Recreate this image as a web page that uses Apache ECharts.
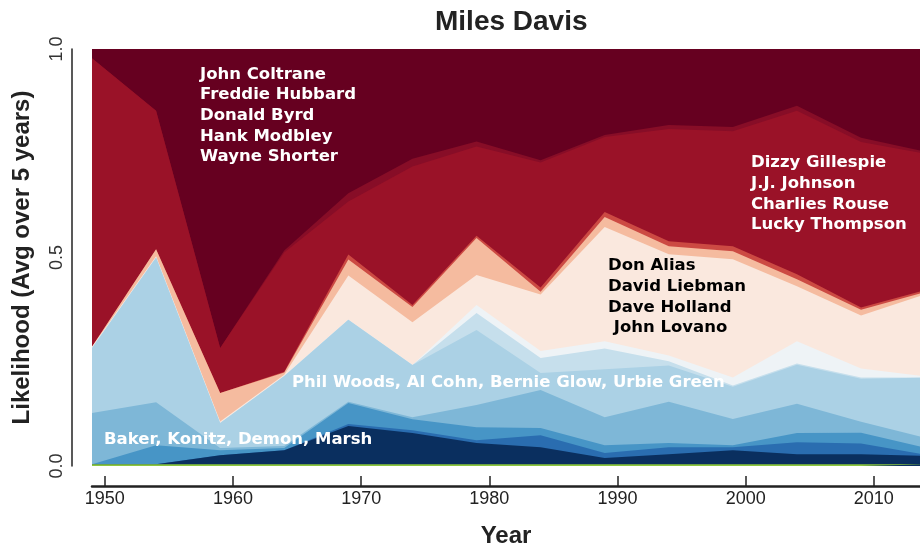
<!DOCTYPE html>
<html>
<head>
<meta charset="utf-8">
<title>Miles Davis</title>
<script src="https://cdn.jsdelivr.net/npm/echarts@6/dist/echarts.min.js"></script>
<style>
    html, body {margin: 0; padding: 0; background: #fff;}
    #main {width: 920px; height: 547px;}
</style>
</head>
<body>
<div id="main"></div>
<script>
// years, one point every 5 years
var years = [1949, 1954, 1959, 1964, 1969, 1974, 1979, 1984, 1989, 1994, 1999, 2004, 2009, 2014];
var xTicks = [1950, 1960, 1970, 1980, 1990, 2000, 2010];
var yTicks = [0, 0.5, 1];

// layers, bottom to top
var greenBand = [0.004, 0.004, 0.004, 0.004, 0.004, 0.004, 0.004, 0.004, 0.004, 0.004, 0.004, 0.004, 0.004, 0.004];
var navyBand = [0, 0, 0.022, 0.034, 0.092, 0.075, 0.051, 0.041, 0.015, 0.024, 0.034, 0.024, 0.024, 0.020];
var blueBand = [0, 0, 0, 0, 0.005, 0.007, 0.007, 0.029, 0.012, 0.017, 0.007, 0.029, 0.026, 0.003];
var midBlueBand = [0, 0.046, 0.012, 0.005, 0.050, 0.026, 0.031, 0.017, 0.019, 0.010, 0.005, 0.022, 0.026, 0.017];
var bakerBand = [0.123, 0.103, 0.005, 0.005, 0.003, 0.005, 0.053, 0.091, 0.067, 0.099, 0.063, 0.070, 0.026, 0.024];
var woodsBand = [0.156, 0.347, 0.060, 0.168, 0.197, 0.125, 0.180, 0.041, 0.115, 0.087, 0.077, 0.094, 0.103, 0.144];
var paleBlueBand = [0, 0, 0, 0, 0, 0, 0.041, 0.036, 0.050, 0.010, 0.003, 0.003, 0.003, 0];
var greyBand = [0, 0, 0, 0, 0, 0, 0.019, 0.017, 0.017, 0.014, 0.019, 0.053, 0.022, 0.003];
var aliasBand = [0.003, 0.003, 0.004, 0.003, 0.106, 0.103, 0.072, 0.135, 0.274, 0.243, 0.284, 0.132, 0.127, 0.197];
var salmonBand = [0, 0.017, 0.068, 0.005, 0.038, 0.036, 0.089, 0.007, 0.024, 0.019, 0.019, 0.017, 0.014, 0.005];
var rustBand = [0, 0, 0, 0.002, 0.012, 0.005, 0.005, 0.010, 0.012, 0.012, 0.012, 0.012, 0.005, 0.005];
var gillespieBand = [0.692, 0.332, 0.108, 0.286, 0.127, 0.332, 0.214, 0.300, 0.180, 0.269, 0.276, 0.392, 0.397, 0.327];
var wineBand = [0, 0, 0, 0.005, 0.020, 0.019, 0.012, 0.005, 0.005, 0.010, 0.010, 0.012, 0.010, 0.005];
var coltraneBand = [0.022, 0.154, 0.719, 0.490, 0.346, 0.267, 0.224, 0.269, 0.207, 0.185, 0.190, 0.139, 0.214, 0.248];

var layers = [
    {name: 'green', color: '#8cc63f', data: greenBand},
    {name: 'navy', color: '#0a2f5f', data: navyBand},
    {name: 'blue', color: '#2a6db0', data: blueBand},
    {name: 'midblue', color: '#4795c6', data: midBlueBand},
    {name: 'baker', color: '#7eb7d7', data: bakerBand},
    {name: 'woods', color: '#abd1e5', data: woodsBand},
    {name: 'paleblue', color: '#c6dfec', data: paleBlueBand},
    {name: 'grey', color: '#eef3f6', data: greyBand},
    {name: 'alias', color: '#fae8de', data: aliasBand},
    {name: 'salmon', color: '#f5bb9f', data: salmonBand},
    {name: 'rust', color: '#cc4a43', data: rustBand},
    {name: 'gillespie', color: '#9a1228', data: gillespieBand},
    {name: 'wine', color: '#870d27', data: wineBand},
    {name: 'coltrane', color: '#660020', data: coltraneBand}
];

// running totals: each layer is filled from 0 up to its top, drawn top layer first
var running = years.map(function () { return 0; });
var stacked = layers.map(function (l) {
    running = running.map(function (s, i) { return s + l.data[i]; });
    return {name: l.name, color: l.color, tops: running.slice()};
});
stacked.reverse();

var annoFont = '"DejaVu Sans", sans-serif';
function note(x, y, text, color) {
    return {
        type: 'text',
        left: x,
        top: y,
        z: 100,
        style: {
            text: text,
            fill: color,
            font: 'bold 16.5px ' + annoFont,
            lineHeight: 20.7
        }
    };
}

var xMin = 1949, xMax = 2013.6;
var nameFont = {
    fontFamily: '"Liberation Sans", Arial, sans-serif',
    fontWeight: 'bold',
    fontSize: 24,
    color: '#222'
};

var areaSeries = stacked.map(function (l) {
    return {
        name: l.name,
        type: 'line',
        xAxisIndex: 0,
        yAxisIndex: 0,
        symbol: 'none',
        smooth: false,
        clip: true,
        lineStyle: {width: 0},
        areaStyle: {color: l.color, opacity: 1, origin: 'start'},
        itemStyle: {color: l.color},
        data: years.map(function (y, i) {
            return [y, l.tops[i]];
        })
    };
});

// year ticks: vertical marklines spanning the small lower grid
var tickSeries = {
    name: 'ticks',
    type: 'line',
    xAxisIndex: 1,
    yAxisIndex: 1,
    symbol: 'none',
    silent: true,
    lineStyle: {width: 0},
    data: [[xMin, 0]],
    markLine: {
        silent: true,
        symbol: 'none',
        animation: false,
        label: {show: false},
        lineStyle: {color: '#222', width: 1.5, type: 'solid'},
        data: xTicks.map(function (v) {
            return {xAxis: v};
        })
    }
};

var chart = echarts.init(document.getElementById('main'), null, {renderer: 'canvas'});
var option = {
    animation: false,
    backgroundColor: '#fff',
    title: {
        text: 'Miles Davis',
        left: 430,
        top: 3,
        textStyle: {
            fontFamily: '"Liberation Sans", Arial, sans-serif',
            fontWeight: 'bold',
            fontSize: 28,
            color: '#222'
        }
    },
    grid: [
        // plot area
        {left: 92, right: 0, top: 49, bottom: 81, outerBoundsMode: 'none', containLabel: false},
        // detached year axis underneath
        {left: 92, right: 0, top: 476, height: 10, outerBoundsMode: 'none', containLabel: false}
    ],
    xAxis: [
        {
            gridIndex: 0,
            type: 'value',
            min: xMin,
            max: xMax,
            show: false
        },
        {
            gridIndex: 1,
            type: 'value',
            min: xMin,
            max: xMax,
            name: 'Year',
            nameLocation: 'middle',
            nameGap: 38,
            nameTextStyle: nameFont,
            splitLine: {show: false},
            axisLine: {lineStyle: {color: '#222', width: 2.5}},
            axisTick: {show: false},
            axisLabel: {
                customValues: xTicks,
                margin: 4,
                fontFamily: '"Liberation Sans", Arial, sans-serif',
                fontSize: 18,
                color: '#222',
                formatter: function (v) {
                    return String(v);
                }
            }
        }
    ],
    yAxis: [
        {
            gridIndex: 0,
            type: 'value',
            min: 0,
            max: 1,
            offset: 20,
            name: 'Likelihood (Avg over 5 years)',
            nameLocation: 'middle',
            nameGap: 38,
            nameTextStyle: nameFont,
            splitLine: {show: false},
            axisLine: {show: true, onZero: false, lineStyle: {color: '#222', width: 1.5}},
            axisTick: {show: false, customValues: yTicks},
            axisLabel: {
                customValues: yTicks,
                rotate: 90,
                margin: 6,
                fontFamily: '"Liberation Sans", Arial, sans-serif',
                fontSize: 18,
                color: '#333',
                formatter: function (v) {
                    return v.toFixed(1);
                }
            }
        },
        {
            gridIndex: 1,
            type: 'value',
            min: 0,
            max: 1,
            show: false
        }
    ],
    series: areaSeries.concat([tickSeries]),
    graphic: [
        note(200, 64, 'John Coltrane\nFreddie Hubbard\nDonald Byrd\nHank Modbley\nWayne Shorter', '#fff'),
        note(751, 152.5, 'Dizzy Gillespie\nJ.J. Johnson\nCharlies Rouse\nLucky Thompson', '#fff'),
        note(608, 255.5, 'Don Alias\nDavid Liebman\nDave Holland\n John Lovano', '#000'),
        note(292, 372.5, 'Phil Woods, Al Cohn, Bernie Glow, Urbie Green', '#fff'),
        note(104, 429.5, 'Baker, Konitz, Demon, Marsh', '#fff')
    ]
};
chart.setOption(option);
</script>
</body>
</html>
